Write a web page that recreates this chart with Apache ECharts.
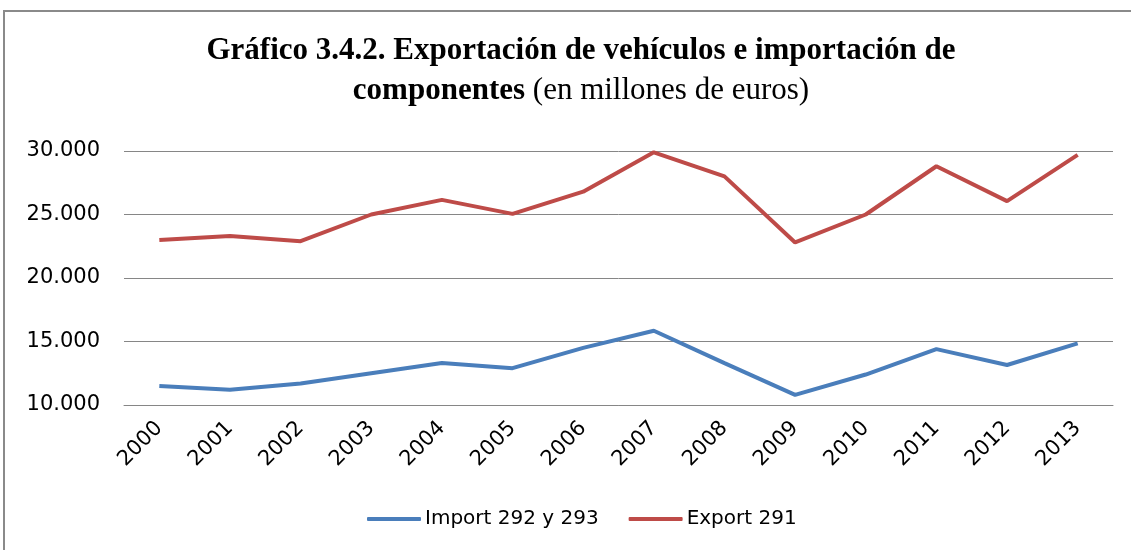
<!DOCTYPE html>
<html><head><meta charset="utf-8">
<script src="https://cdn.jsdelivr.net/npm/echarts@6/dist/echarts.min.js"></script>
<style>html,body{margin:0;padding:0;background:#fff}#c{width:1131px;height:550px}</style>
</head><body><div id="c"></div>
<script>
const years = ['2000','2001','2002','2003','2004','2005','2006','2007','2008','2009','2010','2011','2012','2013'];
const importVals = [11500, 11200, 11700, 12500, 13300, 12900, 14500, 15850, 13300, 10800, 12400, 14400, 13150, 14850];
const exportVals = [23000, 23300, 22900, 25000, 26150, 25050, 26800, 29900, 28000, 22800, 25000, 28800, 26050, 29700];
const yTicks = {min: 10000, max: 30000, interval: 5000};

const chart = echarts.init(document.getElementById('c'), null, {renderer: 'canvas'});
chart.setOption({
  animation: false,
  backgroundColor: '#fff',
  graphic: [{
    type: 'rect', silent: true, z: -1,
    shape: {x: 4, y: 11, width: 1200, height: 600},
    style: {fill: 'none', stroke: '#8a8a8a', lineWidth: 2}
  }],
  title: {
    left: 576, top: 26, textAlign: 'center',
    text: '{b|Gráfico 3.4.2. Exportación de vehículos e importación de}\n{b|componentes}{n| (en millones de euros)}',
    textStyle: {
      lineHeight: 40,
      rich: {
        b: {fontFamily: 'Liberation Serif', fontWeight: 'bold', fontSize: 31, color: '#000', lineHeight: 40},
        n: {fontFamily: 'Liberation Serif', fontWeight: 'normal', fontSize: 31, color: '#000', lineHeight: 40}
      }
    }
  },
  legend: {
    bottom: 16, left: 362,
    itemWidth: 54, itemHeight: 4, itemGap: 30,
    icon: 'roundRect',
    textStyle: {fontFamily: 'DejaVu Sans', fontSize: 20, color: '#000', padding: [0,0,0,-1]},
    data: ['Import 292 y 293', 'Export 291']
  },
  grid: {left: 124, right: 18, top: 151, bottom: 145, containLabel: false},
  xAxis: {
    type: 'category', data: years, boundaryGap: true,
    axisLine: {show: true, lineStyle: {color: '#868686', width: 1}},
    axisTick: {show: false},
    axisLabel: {rotate: 45, fontFamily: 'DejaVu Sans', fontSize: 21, color: '#000', margin: 20, interval: 0},
    splitLine: {show: false}
  },
  yAxis: {
    type: 'value', min: yTicks.min, max: yTicks.max, interval: yTicks.interval,
    axisLine: {show: false}, axisTick: {show: false},
    axisLabel: {fontFamily: 'DejaVu Sans', fontSize: 21, color: '#000', margin: 24,
      formatter: v => String(v).replace(/\B(?=(\d{3})+(?!\d))/g, '.')},
    splitLine: {show: true, lineStyle: {color: '#868686', width: 1}}
  },
  series: [
    {name: 'Import 292 y 293', type: 'line', data: importVals, symbol: 'none',
     lineStyle: {color: '#4A7EBB', width: 4}, itemStyle: {color: '#4A7EBB'}},
    {name: 'Export 291', type: 'line', data: exportVals, symbol: 'none',
     lineStyle: {color: '#BE4B48', width: 4}, itemStyle: {color: '#BE4B48'}}
  ]
});
</script></body></html>
